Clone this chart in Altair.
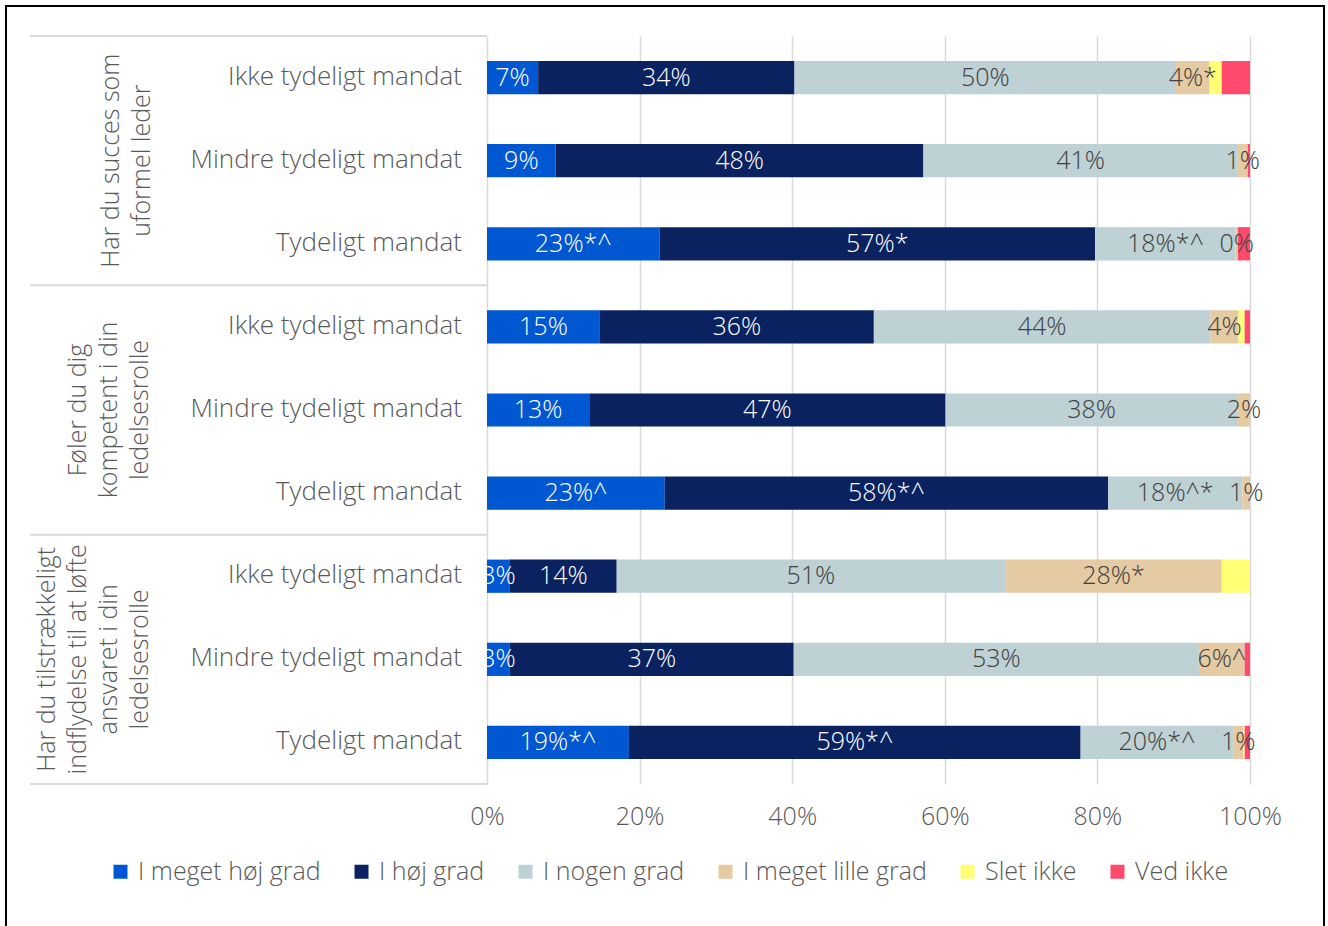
import altair as alt
import pandas as pd

# Answer categories and their colours
categories = ["I meget høj grad", "I høj grad", "I nogen grad",
              "I meget lille grad", "Slet ikke", "Ved ikke"]
colors = ["#0057D2", "#0A2260", "#BED1D5", "#E5CBA3", "#FFFF75", "#FF4A6E"]

# Questions (one group of three bars each)
questions = [
    "Har du succes som\nuformel leder",
    "Føler du dig\nkompetent i din\nledelsesrolle",
    "Har du tilstrækkeligt\nindflydelse til at løfte\nansvaret i din\nledelsesrolle",
]
mandates = ["Ikke tydeligt mandat", "Mindre tydeligt mandat", "Tydeligt mandat"]

# Share (%) per answer category, one list per bar, top to bottom
shares_q1 = [
    [6.7, 33.6, 50.0, 4.4, 1.6, 3.7],
    [9.0, 48.2, 41.2, 1.3, 0.0, 0.3],
    [22.6, 57.1, 18.4, 0.3, 0.0, 1.6],
]
shares_q2 = [
    [14.8, 35.9, 44.1, 3.7, 0.8, 0.7],
    [13.4, 46.7, 38.3, 1.6, 0.0, 0.0],
    [23.3, 58.1, 17.6, 1.0, 0.0, 0.0],
]
shares_q3 = [
    [3.0, 14.0, 50.9, 28.4, 3.7, 0.0],
    [3.0, 37.2, 53.1, 6.0, 0.0, 0.7],
    [18.6, 59.2, 20.0, 1.3, 0.2, 0.7],
]

# Significance markers appended to the labelled segments (first four categories)
markers_q1 = [["", "", "", "*"], ["", "", "", ""], ["*^", "*", "*^", ""]]
markers_q2 = [["", "", "", ""], ["", "", "", ""], ["^", "*^", "^*", ""]]
markers_q3 = [["", "", "", "*"], ["", "", "", "^"], ["*^", "*^", "*^", ""]]

shares = shares_q1 + shares_q2 + shares_q3
markers = markers_q1 + markers_q2 + markers_q3

FONT = "Open Sans"
TEXT_GREY = "#595959"
FS = 25
FW = 300

# Build segment table with cumulative positions
seg_rows = []
for r, (vals, marks) in enumerate(zip(shares, markers)):
    start = 0.0
    for c, v in enumerate(vals):
        end = start + v
        if v > 0:
            label = f"{round(v)}%{marks[c]}" if c < 4 else ""
            seg_rows.append({
                "row": r, "category": categories[c], "order": c,
                "start": start, "end": end, "mid": (start + end) / 2,
                "label": label, "light": c >= 2,
            })
        start = end
seg = pd.DataFrame(seg_rows)

row_df = pd.DataFrame({"row": list(range(9)), "name": mandates * 3})
sep_df = pd.DataFrame({"pos": [0, 3, 6, 9]})
frame_df = pd.DataFrame({"k": [0]})

y_enc = alt.Y("row:O", axis=None,
              scale=alt.Scale(domain=list(range(9)), paddingInner=0.6, paddingOuter=0.3))

bars = alt.Chart(seg).mark_bar().encode(
    x=alt.X("start:Q", title=None,
            scale=alt.Scale(domain=[0, 100], nice=False),
            axis=alt.Axis(values=[0, 20, 40, 60, 80, 100],
                          labelExpr="datum.value + '%'",
                          labelFont=FONT, labelFontSize=FS, labelFontWeight=FW,
                          labelColor=TEXT_GREY, labelFlush=False,
                          labelPadding=20, ticks=False, domain=False,
                          grid=True, gridColor="#D9D9D9", gridWidth=1.5)),
    x2="end:Q",
    y=y_enc,
    color=alt.Color("category:N",
                    scale=alt.Scale(domain=categories, range=colors),
                    legend=alt.Legend(title=None, orient="none", legendX=-379, legendY=823,
                                      direction="horizontal", columns=6,
                                      symbolType="square", symbolSize=196,
                                      symbolStrokeWidth=0,
                                      labelFont=FONT, labelFontSize=FS,
                                      labelFontWeight=FW,
                                      labelColor=TEXT_GREY, labelLimit=400,
                                      columnPadding=28, labelOffset=5)),
)

dark_labels = alt.Chart(seg).transform_filter(
    "datum.light && datum.label != ''"
).mark_text(font=FONT, fontSize=FS, fontWeight=FW, color="#404040",
            baseline="middle").encode(
    x="mid:Q", y=y_enc, text="label:N"
)

white_labels = alt.Chart(seg).transform_filter(
    "!datum.light && datum.label != ''"
).mark_text(font=FONT, fontSize=FS, fontWeight=FW, color="white",
            baseline="middle", clip=True).encode(
    x="mid:Q", y=y_enc, text="label:N"
)

row_labels = alt.Chart(row_df).mark_text(
    font=FONT, fontSize=26, fontWeight=FW, color=TEXT_GREY,
    align="right", baseline="middle", dy=-1
).encode(x=alt.value(-25), y=y_enc, text="name:N")

# Rotated question labels, one per group (first line sits at the given x)
group_layers = []
for middle_row, question, first_line_x in zip([1, 4, 7], questions, [-363, -396, -427]):
    gdf = pd.DataFrame({"row": [middle_row], "question": [question]})
    group_layers.append(
        alt.Chart(gdf).mark_text(
            font=FONT, fontSize=FS, fontWeight=FW, color=TEXT_GREY, angle=270,
            align="center", baseline="bottom", lineBreak="\n", lineHeight=31
        ).encode(x=alt.value(first_line_x), y=y_enc, text="question:N")
    )

separators = alt.Chart(sep_df).mark_rule(color="#D9D9D9", strokeWidth=2).encode(
    y=alt.Y("pos:Q", axis=None, scale=alt.Scale(domain=[0, 9], reverse=True, nice=False)),
    x=alt.value(-457), x2=alt.value(0),
)

frame = alt.Chart(frame_df).mark_rect(
    fillOpacity=0, stroke="black", strokeWidth=2
).encode(x=alt.value(-481), x2=alt.value(837), y=alt.value(-30), y2=alt.value(900))

chart = alt.layer(
    bars, dark_labels, white_labels, row_labels, *group_layers, separators, frame
).resolve_scale(y="independent").properties(
    width=763, height=748,
    autosize=alt.AutoSizeParams(type="none"),
    padding={"left": 487, "top": 36, "right": 78, "bottom": 142},
    background="white",
).configure_view(stroke=None)

chart.save("out.html", embed_options={"renderer": "svg", "actions": False})
